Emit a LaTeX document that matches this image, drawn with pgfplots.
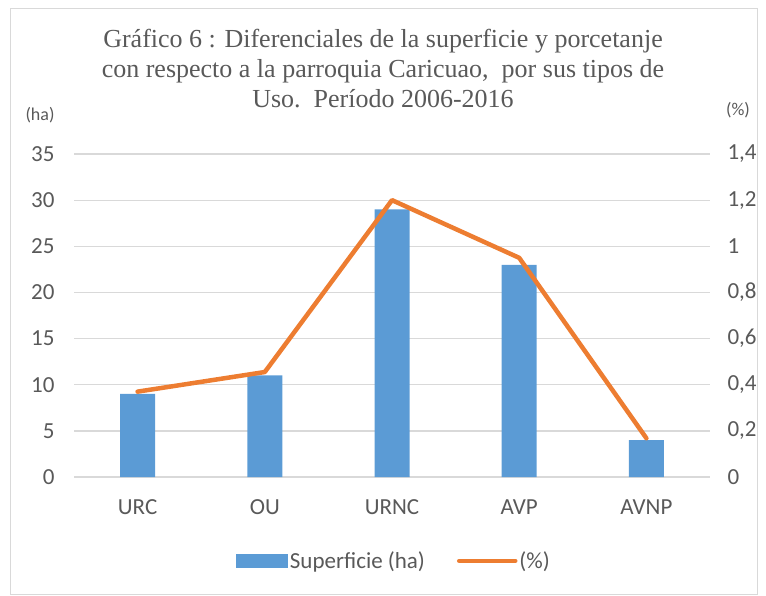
\documentclass[border=0pt]{standalone}
\usepackage{pgfplots}
\pgfplotsset{compat=1.18}
\usepackage{fontspec}
\setmainfont{Carlito}
\newfontfamily\titlefont{Liberation Serif}
\definecolor{barblue}{HTML}{5B9BD5}
\definecolor{lineorange}{HTML}{ED7D31}
\definecolor{gridgray}{HTML}{D9D9D9}
\definecolor{txtgray}{HTML}{595959}

\pgfplotstableread{
x sup pct
0 9  0.37
1 11 0.455
2 29 1.2
3 23 0.95
4 4  0.168
}\datatab

\begin{document}
\begin{tikzpicture}
\useasboundingbox (0pt,0pt) rectangle (766pt,-595pt);
\draw[gridgray, line width=1pt] (10pt,-8pt) rectangle (757pt,-594pt);

\node[align=center, text=txtgray, font=\titlefont\fontsize{26}{30}\selectfont] at (383pt,-69pt)
  {Gráfico 6 : Diferenciales de la superficie y porcetanje\\
   con respecto a la parroquia Caricuao,\ \ por sus tipos de\\
   Uso.\ \ Período 2006-2016};
\node[text=txtgray, font=\fontsize{18}{18}\selectfont] at (40pt,-115pt) {(ha)};
\node[text=txtgray, font=\fontsize{18}{18}\selectfont] at (738pt,-110pt) {(\%)};

\pgfplotsset{
  every axis/.append style={
    anchor=south west, at={(74pt,-477pt)},
    scale only axis, width=636pt, height=323pt,
    xmin=-0.5, xmax=4.5,
    ymin=0,
    major tick length=0pt,
    tick label style={text=txtgray, font=\fontsize{23}{23}\selectfont},
    /pgf/number format/assume math mode=true,
    /pgf/number format/use comma,
  },
}

\begin{axis}[
  ymax=35, ytick distance=5,
  axis y line*=left, axis x line*=bottom,
  y axis line style={draw=none},
  x axis line style={gridgray, line width=1.3pt},
  ymajorgrids, grid style={gridgray, line width=1.3pt},
  xtick=data, xticklabels={URC,OU,URNC,AVP,AVNP},
  xticklabel style={yshift=-19pt},
  yticklabel style={xshift=-16pt},
  legend columns=2,
  legend style={draw=none, at={(0.503,-0.26)}, anchor=center,
    font=\fontsize{23}{23}\selectfont, text=txtgray,
    /tikz/every even column/.append style={column sep=30pt}},
]
\addplot[ybar, bar width=35pt, fill=barblue, draw=none,
  legend image code/.code={\fill[barblue] (0pt,-7pt) rectangle (52pt,7pt);}]
  table[x=x, y=sup] {\datatab};
\addlegendentry{Superficie (ha)}
\addlegendimage{lineorange,
  legend image code/.code={\draw[lineorange, line width=4.5pt, line cap=round] (0pt,0pt) -- (56pt,0pt);}}
\addlegendentry{(\%)}
\end{axis}

\begin{axis}[
  ymax=1.4, ytick={0,0.2,...,1.4},
  axis y line*=right, axis x line=none,
  y axis line style={draw=none},
  yticklabel style={xshift=14pt},
  xtick=\empty,
]
\addplot[lineorange, line width=4.5pt, line join=round, line cap=round, mark=none]
  table[x=x, y=pct] {\datatab};
\end{axis}
\end{tikzpicture}
\end{document}
